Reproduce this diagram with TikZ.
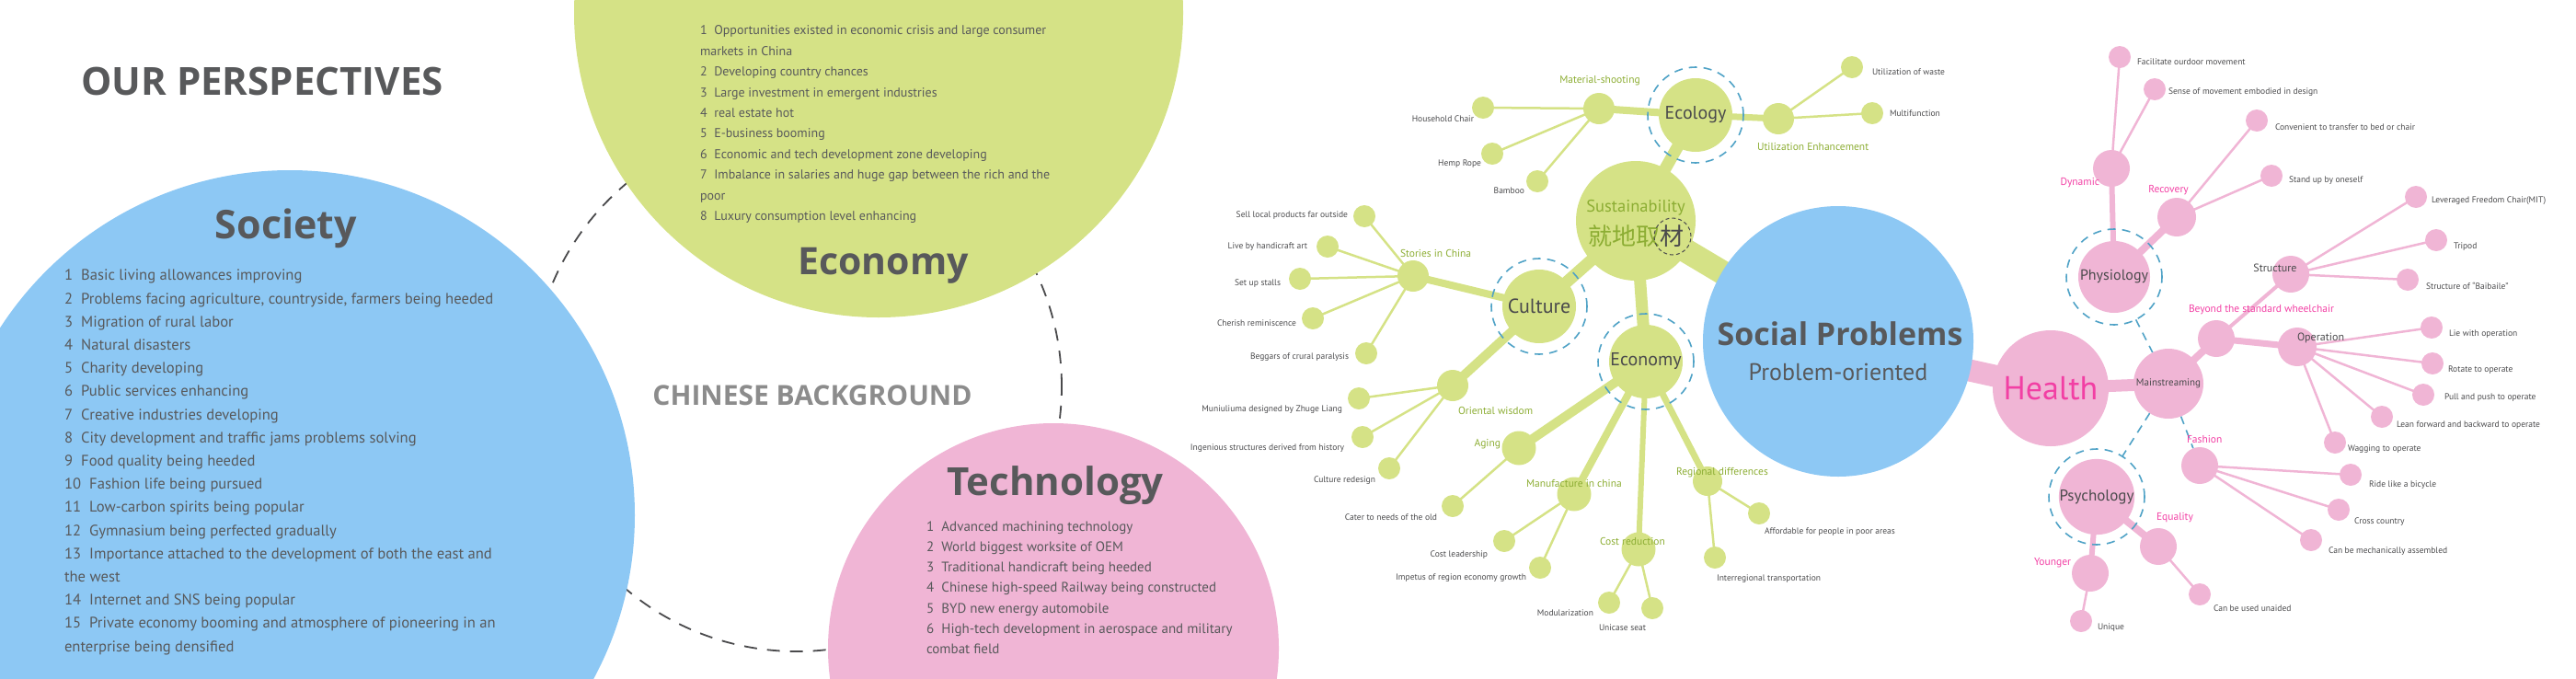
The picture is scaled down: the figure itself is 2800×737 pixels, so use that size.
\documentclass[tikz,border=0pt]{standalone}
\usepackage{fontspec}
\setmainfont{PT Sans}
\newfontfamily\headfont{Open Sans}
\newfontfamily\cjk{Noto Sans CJK SC}
\usetikzlibrary{backgrounds}
\definecolor{socblue}{HTML}{8DC8F4}
\definecolor{ecogreen}{HTML}{D5E286}
\definecolor{techpink}{HTML}{F0B5D5}
\definecolor{txtgray}{HTML}{58595B}
\definecolor{bggray}{HTML}{8C8C8C}
\definecolor{darktxt}{HTML}{4A4A4C}
\definecolor{greentxt}{HTML}{8CAD33}
\definecolor{pinktxt}{HTML}{F23FA4}
\definecolor{ringblue}{HTML}{4FA2C6}
\newcommand\fs[2]{\fontsize{#1}{#2}\selectfont}
\newcommand\numgap{\hspace{.55em}}

\begin{document}
\begin{tikzpicture}[x=1pt,y=-1pt,
  every node/.style={inner sep=0pt,outer sep=0pt},
  blob/.style={circle,inner sep=0pt},
  gdot/.style={blob,fill=ecogreen,minimum size=24pt},
  gsub/.style={blob,fill=ecogreen,minimum size=37pt},
  gmain/.style={blob,fill=ecogreen,minimum size=80pt,text=darktxt,font=\fs{20}{24}},
  pdot/.style={blob,fill=techpink,minimum size=24pt},
  psub/.style={blob,fill=techpink,minimum size=40pt},
  pmain/.style={blob,fill=techpink,minimum size=78pt,text=darktxt,font=\fs{16}{19}},
  halo/.style={circle,draw=ringblue,line width=1.6pt,dash pattern=on 9pt off 7pt,minimum size=104pt},
  dashlink/.style={draw=ringblue,line width=1.6pt,dash pattern=on 9pt off 7pt},
  headline/.style={text=txtgray,font=\headfont\bfseries\fs{#1}{#1}},
  leaf/.style={text=darktxt,font=\fs{9.5}{11}},
  gtag/.style={text=greentxt,font=\fs{11.5}{13}},
  ptag/.style={text=pinktxt,font=\fs{11.5}{13}},
  gline/.style={draw=ecogreen,line width=#1},gline/.default=2.5pt,
  pline/.style={draw=techpink,line width=#1},pline/.default=2.5pt,
  itemlist/.style={align=left,text=txtgray,anchor=north west}]
\useasboundingbox (0,0) rectangle (2800,737);

% chinese background
\node[circle,draw=darktxt,line width=1.8pt,dash pattern=on 14pt off 11pt,minimum size=576pt] (bgring) at (866,420) {};
\node[circle,fill=socblue,minimum size=750pt] (society) at (315,560) {};
\node[circle,fill=ecogreen,minimum size=662pt] (economy) at (955,14) {};
\node[circle,fill=techpink,minimum size=490pt] (technology) at (1145,705) {};

\node[headline=42] (title) at (285,88) {OUR PERSPECTIVES};
\node[headline=30,text=bggray] (bgtitle) at (883,430) {CHINESE BACKGROUND};

\node[headline=43] (societyT) at (311,248) {Society};
\node[itemlist,font=\fs{16.6}{25.2}] (societyL) at (70,293) {1\numgap Basic living allowances improving\\
2\numgap Problems facing agriculture, countryside, farmers being heeded\\
3\numgap Migration of rural labor\\
4\numgap Natural disasters\\
5\numgap Charity developing\\
6\numgap Public services enhancing\\
7\numgap Creative industries developing\\
8\numgap City development and traffic jams problems solving\\
9\numgap Food quality being heeded\\
10\numgap Fashion life being pursued\\
11\numgap Low-carbon spirits being popular\\
12\numgap Gymnasium being perfected gradually\\
13\numgap Importance attached to the development of both the east and\\
the west\\
14\numgap Internet and SNS being popular\\
15\numgap Private economy booming and atmosphere of pioneering in an\\
enterprise being densified};

\node[itemlist,font=\fs{14}{22.4}] (economyL) at (761,28) {1\numgap Opportunities existed in economic crisis and large consumer\\
markets in China\\
2\numgap Developing country chances\\
3\numgap Large investment in emergent industries\\
4\numgap real estate hot\\
5\numgap E-business booming\\
6\numgap Economic and tech development zone developing\\
7\numgap Imbalance in salaries and huge gap between the rich and the\\
poor\\
8\numgap Luxury consumption level enhancing};
\node[headline=41] (economyT) at (960,289) {Economy};

\node[headline=42] (technologyT) at (1147,528) {Technology};
\node[itemlist,font=\fs{15}{22.1}] (technologyL) at (1007,567) {1\numgap Advanced machining technology\\
2\numgap World biggest worksite of OEM\\
3\numgap Traditional handicraft being heeded\\
4\numgap Chinese high-speed Railway being constructed\\
5\numgap BYD new energy automobile\\
6\numgap High-tech development in aerospace and military\\
combat field};

% social problems
\node[circle,fill=socblue,minimum size=294pt] (social) at (1998,371) {};
\node[headline=34] (socialT) at (2000,363) {Social Problems};
\node[font=\fs{26}{30},text=txtgray] (socialS) at (1998,404) {Problem-oriented};

% green side
\node[gmain,minimum size=130pt] (sust) at (1778,240) {};
\node[text=greentxt,font=\fs{18.5}{20}] (sustT) at (1778,226) {Sustainability};
\node[font=\cjk\fs{26}{28}] (sustZ) at (1778,257) {\textcolor{greentxt}{就地取}\textcolor{darktxt}{材}};
\node[circle,draw=darktxt,line width=1pt,dash pattern=on 4pt off 3pt,minimum size=40pt] (cai) at (1818,257) {};

\node[gmain] (ecology) at (1843,125) {Ecology};
\node[halo] (ecologyR) at (ecology) {};
\node[gmain,font=\fs{22}{26}] (culture) at (1673,333) {Culture};
\node[halo] (cultureR) at (culture) {};
\node[gmain] (econ) at (1789,393) {Economy};
\node[halo] (econR) at (econ) {};

\node[gsub,minimum size=34pt] (matshoot) at (1738,118) {};
\node[gsub,minimum size=34pt] (utilenh) at (1933,129) {};
\node[gsub,minimum size=34pt] (stories) at (1536,300) {};
\node[gsub,minimum size=34pt] (oriental) at (1579,419) {};
\node[gsub] (aging) at (1651,487) {};
\node[gsub] (manuf) at (1711,537) {};
\node[gsub] (costred) at (1781,597) {};
\node[gsub,minimum size=32pt] (regional) at (1856,523) {};

\node[gdot] (household) at (1612,117) {};
\node[gdot] (hemp) at (1622,167) {};
\node[gdot] (bamboo) at (1671,197) {};
\node[gdot] (waste) at (2013,73) {};
\node[gdot] (multifunc) at (2035,123) {};
\node[gdot] (sell) at (1483,235) {};
\node[gdot] (live) at (1443,268) {};
\node[gdot] (stalls) at (1413,303) {};
\node[gdot] (cherish) at (1427,346) {};
\node[gdot] (beggars) at (1485,384) {};
\node[gdot] (muniu) at (1477,433) {};
\node[gdot] (ingenious) at (1481,475) {};
\node[gdot] (redesign) at (1510,509) {};
\node[gdot] (cater) at (1579,550) {};
\node[gdot] (costlead) at (1635,588) {};
\node[gdot] (impetus) at (1674,617) {};
\node[gdot] (modular) at (1749,655) {};
\node[gdot] (unicase) at (1796,661) {};
\node[gdot] (afford) at (1912,558) {};
\node[gdot] (interreg) at (1864,606) {};

\node[gtag] (matshootT) at (1739,88) {Material-shooting};
\node[gtag,anchor=west] (utilenhT) at (1910,159) {Utilization Enhancement};
\node[gtag,anchor=west] (storiesT) at (1522,275) {Stories in China};
\node[gtag,anchor=west] (orientalT) at (1585,446) {Oriental wisdom};
\node[gtag,anchor=east] (agingT) at (1631,483) {Aging};
\node[gtag,anchor=west] (manufT) at (1659,525) {Manufacture in china};
\node[gtag,anchor=west] (costredT) at (1739,588) {Cost reduction};
\node[gtag,anchor=west] (regionalT) at (1822,514) {Regional differences};

\node[leaf,anchor=east] (householdT) at (1602,129) {Household Chair};
\node[leaf,anchor=east] (hempT) at (1610,178) {Hemp Rope};
\node[leaf,anchor=east] (bambooT) at (1657,207) {Bamboo};
\node[leaf,anchor=west] (wasteT) at (2035,78) {Utilization of waste};
\node[leaf,anchor=west] (multifuncT) at (2054,123) {Multifunction};
\node[leaf,anchor=east] (sellT) at (1465,234) {Sell local products far outside};
\node[leaf,anchor=east] (liveT) at (1421,268) {Live by handicraft art};
\node[leaf,anchor=east] (stallsT) at (1392,308) {Set up stalls};
\node[leaf,anchor=east] (cherishT) at (1409,351) {Cherish reminiscence};
\node[leaf,anchor=east] (beggarsT) at (1466,388) {Beggars of crural paralysis};
\node[leaf,anchor=east] (muniuT) at (1459,445) {Muniuliuma designed by Zhuge Liang};
\node[leaf,anchor=east] (ingeniousT) at (1461,487) {Ingenious structures derived from history};
\node[leaf,anchor=east] (redesignT) at (1495,522) {Culture redesign};
\node[leaf,anchor=east] (caterT) at (1562,562) {Cater to needs of the old};
\node[leaf,anchor=east] (costleadT) at (1617,603) {Cost leadership};
\node[leaf,anchor=east] (impetusT) at (1659,628) {Impetus of region economy growth};
\node[leaf,anchor=east] (modularT) at (1732,666) {Modularization};
\node[leaf,anchor=west] (unicaseT) at (1738,682) {Unicase seat};
\node[leaf,anchor=west] (affordT) at (1918,578) {Affordable for people in poor areas};
\node[leaf,anchor=west] (interregT) at (1866,629) {Interregional transportation};

% pink side
\node[pmain,minimum size=126pt,text=pinktxt,font=\fs{36}{40}] (health) at (2229,422) {Health};
\node[pmain,minimum size=76pt,font=\fs{11}{13}] (mainstr) at (2357,417) {Mainstreaming};
\node[pmain] (physio) at (2298,301) {Physiology};
\node[halo] (physioR) at (physio) {};
\node[pmain,font=\fs{17}{19}] (psycho) at (2279,540) {Psychology};
\node[halo] (psychoR) at (psycho) {};

\node[psub] (dynamic) at (2295,183) {};
\node[psub,minimum size=42pt] (recovery) at (2366,236) {};
\node[psub] (beyond) at (2409,368) {};
\node[psub] (structure) at (2490,298) {};
\node[psub,minimum size=42pt] (operation) at (2497,377) {};
\node[psub] (fashion) at (2391,506) {};
\node[psub] (equality) at (2346,594) {};
\node[psub] (younger) at (2272,623) {};

\node[pdot] (facilitate) at (2304,62) {};
\node[pdot] (sense) at (2342,97) {};
\node[pdot] (convenient) at (2453,131) {};
\node[pdot] (standup) at (2469,191) {};
\node[pdot] (leveraged) at (2626,214) {};
\node[pdot] (tripod) at (2648,261) {};
\node[pdot] (baibaile) at (2617,304) {};
\node[pdot] (lie) at (2643,356) {};
\node[pdot] (rotate) at (2644,395) {};
\node[pdot] (pull) at (2634,429) {};
\node[pdot] (lean) at (2589,453) {};
\node[pdot] (wagging) at (2538,481) {};
\node[pdot] (ride) at (2555,516) {};
\node[pdot] (cross) at (2542,554) {};
\node[pdot] (mech) at (2512,587) {};
\node[pdot] (unaided) at (2391,646) {};
\node[pdot] (unique) at (2262,675) {};

\node[ptag,anchor=east] (dynamicT) at (2282,199) {Dynamic};
\node[ptag] (recoveryT) at (2357,207) {Recovery};
\node[ptag,anchor=west] (beyondT) at (2379,337) {Beyond the standard wheelchair};
\node[ptag,anchor=west] (fashionT) at (2377,477) {Fashion};
\node[ptag,anchor=west] (equalityT) at (2344,563) {Equality};
\node[ptag,anchor=east] (youngerT) at (2251,612) {Younger};
\node[leaf,font=\fs{12}{14}] (structureT) at (2473,291) {Structure};
\node[leaf,font=\fs{12}{14},anchor=west] (operationT) at (2497,367) {Operation};

\node[leaf,anchor=west] (facilitateT) at (2323,67) {Facilitate ourdoor movement};
\node[leaf,anchor=west] (senseT) at (2357,100) {Sense of movement embodied in design};
\node[leaf,anchor=west] (convenientT) at (2473,138) {Convenient to transfer to bed or chair};
\node[leaf,anchor=west] (standupT) at (2488,196) {Stand up by oneself};
\node[leaf,anchor=west] (leveragedT) at (2643,218) {Leveraged Freedom Chair(MIT)};
\node[leaf,anchor=west] (tripodT) at (2667,268) {Tripod};
\node[leaf,anchor=west] (baibaileT) at (2637,311) {Structure of “Baibaile”};
\node[leaf,anchor=west] (lieT) at (2662,363) {Lie with operation};
\node[leaf,anchor=west] (rotateT) at (2661,402) {Rotate to operate};
\node[leaf,anchor=west] (pullT) at (2657,432) {Pull and push to operate};
\node[leaf,anchor=west] (leanT) at (2605,462) {Lean forward and backward to operate};
\node[leaf,anchor=west] (waggingT) at (2552,488) {Wagging to operate};
\node[leaf,anchor=west] (rideT) at (2575,527) {Ride like a bicycle};
\node[leaf,anchor=west] (crossT) at (2559,567) {Cross country};
\node[leaf,anchor=west] (mechT) at (2531,599) {Can be mechanically assembled};
\node[leaf,anchor=west] (unaidedT) at (2406,661) {Can be used unaided};
\node[leaf,anchor=west] (uniqueT) at (2280,682) {Unique};

% connectors
\begin{scope}[on background layer]
\draw[gline=26pt] (sust.center) -- (social.center);
\draw[pline=24pt] (social.center) -- (health.center);
\draw[gline=13pt] (sust.center) -- (ecology.center);
\draw[gline=13pt] (sust.center) -- (culture.center);
\draw[gline=13pt] (sust.center) -- (econ.center);
\draw[gline=8pt] (ecology.center) -- (matshoot.center);
\draw[gline=7pt] (ecology.center) -- (utilenh.center);
\draw[gline=8pt] (culture.center) -- (stories.center);
\draw[gline=10pt] (culture.center) -- (oriental.center);
\draw[gline=10pt] (econ.center) -- (aging.center);
\draw[gline=8pt] (econ.center) -- (manuf.center);
\draw[gline=6pt] (econ.center) -- (costred.center);
\draw[gline=7pt] (econ.center) -- (regional.center);
\foreach \l in {household,hemp,bamboo} \draw[gline] (matshoot.center) -- (\l.center);
\foreach \l in {waste,multifunc} \draw[gline] (utilenh.center) -- (\l.center);
\foreach \l in {sell,live,stalls,cherish,beggars} \draw[gline] (stories.center) -- (\l.center);
\foreach \l in {muniu,ingenious,redesign} \draw[gline] (oriental.center) -- (\l.center);
\draw[gline] (aging.center) -- (cater.center);
\foreach \l in {costlead,impetus} \draw[gline] (manuf.center) -- (\l.center);
\foreach \l in {modular,unicase} \draw[gline] (costred.center) -- (\l.center);
\foreach \l in {afford,interreg} \draw[gline] (regional.center) -- (\l.center);

\draw[pline=13pt] (health.center) -- (mainstr.center);
\draw[pline=8pt] (mainstr.center) -- (beyond.center);
\draw[pline=4pt] (beyond.center) -- (structure.center);
\draw[pline=7pt] (beyond.center) -- (operation.center);
\draw[pline=6pt] (physio.center) -- (dynamic.center);
\draw[pline=8pt] (physio.center) -- (recovery.center);
\draw[pline=8pt] (psycho.center) -- (equality.center);
\draw[pline=6pt] (psycho.center) -- (younger.center);
\foreach \l in {facilitate,sense} \draw[pline] (dynamic.center) -- (\l.center);
\foreach \l in {convenient,standup} \draw[pline] (recovery.center) -- (\l.center);
\foreach \l in {leveraged,tripod,baibaile} \draw[pline] (structure.center) -- (\l.center);
\foreach \l in {lie,rotate,pull,lean,wagging} \draw[pline] (operation.center) -- (\l.center);
\foreach \l in {ride,cross,mech} \draw[pline] (fashion.center) -- (\l.center);
\draw[pline] (equality.center) -- (unaided.center);
\draw[pline] (younger.center) -- (unique.center);
\draw[dashlink] (physioR) -- (mainstr);
\draw[dashlink] (mainstr) -- (psychoR);
\draw[dashlink] (mainstr) -- (fashion);
\end{scope}
\end{tikzpicture}
\end{document}
